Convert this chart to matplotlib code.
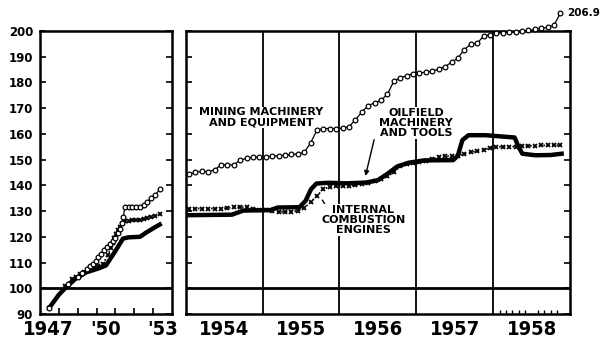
import matplotlib
matplotlib.use("Agg")
import matplotlib.pyplot as plt
import numpy as np

plt.rcParams['font.family'] = ['DejaVu Sans']
plt.rcParams['font.weight'] = 'bold'

# ---- 1947-53 (left panel) ----
mining_early_t = [1947.5, 1948.5, 1949.0, 1949.25, 1949.5, 1949.65, 1949.8, 1949.95,
                  1950.1, 1950.25, 1950.4, 1950.55, 1950.7, 1950.85, 1951.0, 1951.12,
                  1951.24, 1951.33, 1951.42, 1951.5, 1951.7, 1951.9, 1952.1, 1952.3,
                  1952.5, 1952.7, 1952.9, 1953.1, 1953.35]
mining_early = [92.5, 101.5, 104.5, 106, 107.5, 108.5, 109.5, 110.5,
                112, 113.5, 115, 116, 117.3, 118.5, 119.5, 121.5,
                123.2, 125.5, 127.7, 131.6, 131.6, 131.6, 131.6, 131.4,
                132.5, 133.5, 135, 136.2, 138.4]

engines_early_t = [1947.5, 1948.3, 1948.7, 1948.9, 1949.1, 1949.35, 1949.6, 1949.85,
                   1950.1, 1950.35, 1950.6, 1950.75, 1950.85, 1950.95, 1951.05, 1951.15,
                   1951.25, 1951.35, 1951.5, 1951.7, 1951.9, 1952.1, 1952.3, 1952.5,
                   1952.7, 1952.9, 1953.1, 1953.35]
engines_early = [92.5, 101, 103.5, 104.5, 105.5, 106.5, 107.5, 108.3,
                 108.6, 109.5, 113, 115.5, 117.5, 119.5, 121, 122.5,
                 123.8, 125, 126, 126.3, 126.5, 126.5, 126.6, 127,
                 127.3, 127.6, 128, 129]

oilfield_early_t = [1947.5, 1948.0, 1948.4, 1948.9, 1949.45, 1950.1, 1950.5, 1951.0,
                    1951.4, 1951.7, 1952.3, 1952.6, 1953.0, 1953.45]
oilfield_early = [92.5, 97.5, 100.5, 103.8, 106.2, 107.7, 108.9, 114.5,
                  119.3, 119.8, 120, 121.5, 123.3, 125.2]

# ---- 1954-58 monthly (right panel) ----
mining_monthly = [
    144.4, 145, 145.5, 145.3, 146, 147.9, 148.1, 147.9, 149.8, 150.5, 151, 151.1,   # 1954
    151.2, 151.3, 151.5, 151.7, 152, 152.2, 152.8, 156.5, 161.5, 162.1, 162.1, 162.1,  # 1955
    162.2, 162.8, 165.5, 168.5, 171, 172.1, 173, 175.5, 180.5, 181.8, 182.6, 183.4,  # 1956
    183.7, 184, 184.4, 185.2, 186.2, 187.8, 189.5, 192.8, 194.9, 195.2, 198, 198.6,  # 1957
    199.1, 199.3, 199.5, 199.7, 199.9, 200.2, 200.6, 201.0, 201.4, 202.3, 206.9,  # 1958
]
engines_monthly = [
    131, 131, 131, 131, 131, 131, 131.2, 131.4, 131.6, 131.5, 131, 130.6,
    130.3, 130, 129.7, 129.7, 129.8, 130.1, 131.2, 133.5, 136, 138.5, 139.5, 139.7,
    139.7, 139.8, 140.1, 140.5, 141, 141.8, 142.5, 143.5, 145, 147.5, 148.3, 148.6,
    149, 149.4, 150.2, 151, 151.3, 151.4, 151.6, 152.2, 152.8, 153.3, 153.8, 154.5,
    155, 155, 155, 155.1, 155.2, 155.3, 155.4, 155.5, 155.6, 155.6, 155.6,
]
oilfield_t = [1954.0, 1954.6, 1954.75, 1955.1, 1955.2, 1955.48, 1955.56, 1955.63,
              1955.7, 1955.85, 1956.1, 1956.35, 1956.5, 1956.63, 1956.75, 1956.9,
              1957.1, 1957.48, 1957.54, 1957.6, 1957.68, 1957.9, 1958.28, 1958.33,
              1958.38, 1958.55, 1958.75, 1958.92]
oilfield = [128.4, 128.6, 130.2, 130.4, 131.4, 131.5, 134, 138.5,
            140.7, 141, 140.8, 141.1, 142, 144.6, 147.3, 148.8,
            149.7, 149.8, 151.5, 157.6, 159.5, 159.5, 158.6, 155,
            152.3, 151.7, 151.8, 152.4]

yticks = list(range(90, 201, 10))
early_labels = ['1947', "'50", "'53"]
early_label_pos = [1947.45, 1950.5, 1953.5]
years = [1954, 1955, 1956, 1957, 1958]

month_t = 1954 + (np.arange(len(mining_monthly)) + 0.5) / 12

fig = plt.figure(figsize=(6.11, 3.42), dpi=100)
ax1 = fig.add_axes([40 / 611, 28 / 342, 132 / 611, 283 / 342])
ax2 = fig.add_axes([185.7 / 611, 28 / 342, 384.3 / 611, 283 / 342])

circ = dict(color='black', lw=0.9, marker='o', ms=3.4, mfc='white', mec='black', mew=0.9)
cross = dict(color='black', lw=1.2, ls=':', marker='x', ms=3.0, mew=1.3)
solid = dict(color='black', lw=3.2, solid_capstyle='butt')
year_font = dict(family=['Liberation Sans Narrow', 'DejaVu Sans'], fontstretch='condensed',
                 fontsize=14.5, fontweight='bold')

# left panel
ax1.plot(oilfield_early_t, oilfield_early, **solid, zorder=3)
ax1.plot(engines_early_t, engines_early, **cross, zorder=4)
ax1.plot(mining_early_t, mining_early, **circ, zorder=5)
ax1.set_xlim(1947, 1954)
ax1.set_xticks(range(1948, 1954))
ax1.set_xticklabels([])
ax1.set_yticks(yticks)
ax1.set_yticklabels([str(v) for v in yticks], fontsize=8.5, fontweight='heavy')
ax1.tick_params(axis='both', direction='in', length=4, width=1.2, pad=3)
ax1.tick_params(axis='y', right=True, pad=5)
ax1.tick_params(axis='x', bottom=True)
for x, lab in zip(early_label_pos, early_labels):
    ax1.text(x, -0.022, lab, transform=ax1.get_xaxis_transform(), ha='center', va='top',
             **year_font)

# right panel
ax2.plot(oilfield_t, oilfield, **solid, zorder=3)
ax2.plot(month_t[:len(engines_monthly)], engines_monthly, **cross, zorder=4)
ax2.plot(month_t, mining_monthly, **circ, zorder=5, clip_on=False)
ax2.set_xlim(1954, 1959)
ax2.set_xticks([y + 0.5 for y in years])
ax2.set_xticklabels([])
ax2.set_xticks(1958 + np.arange(1, 11) / 12, minor=True)
ax2.tick_params(axis='x', which='major', length=0)
ax2.tick_params(axis='x', which='minor', direction='in', length=3, width=1.0)
ax2.set_yticks(yticks)
ax2.set_yticklabels([])
ax2.tick_params(axis='y', direction='in', length=4, width=1.2, left=True, right=True)
for y in years[1:]:
    ax2.axvline(y, color='black', lw=1.3, zorder=2)
for y in years:
    ax2.text(y + 0.5, -0.022, str(y), transform=ax2.get_xaxis_transform(), ha='center', va='top',
             **year_font)

for ax in (ax1, ax2):
    ax.set_ylim(90, 200)
    ax.axhline(100, color='black', lw=2.0, zorder=2)
    for s in ax.spines.values():
        s.set_linewidth(1.8)

# series labels sit on white patches so the year rules break behind them
lab = dict(fontsize=8, fontweight='heavy', ha='center', va='center', linespacing=1.0, zorder=2.5,
           bbox=dict(facecolor='white', edgecolor='none', pad=0.5))
ax2.text(1954.98, 166.5, 'MINING MACHINERY\nAND EQUIPMENT', **lab)
ax2.plot([1955.67, 1955.73], [164.2, 161.1], color='black', lw=1.0)
ax2.text(1957.0, 164.2, 'OILFIELD\nMACHINERY\nAND TOOLS', **lab)
ax2.annotate('', xy=(1956.33, 142.6), xytext=(1956.46, 158.8),
             arrowprops=dict(arrowstyle='-|>', color='black', lw=1.0, mutation_scale=7))
ax2.text(1956.31, 126.5, 'INTERNAL\nCOMBUSTION\nENGINES', **lab)
ax2.plot([1955.78, 1955.83], [134.2, 131.6], color='black', lw=1.0)
ax2.text(month_t[len(mining_monthly) - 1] + 0.09, 206.9, '206.9', fontsize=7.5,
         fontweight='heavy', ha='left', va='center', clip_on=False)

fig.savefig('out.png', dpi=100, facecolor='white')
